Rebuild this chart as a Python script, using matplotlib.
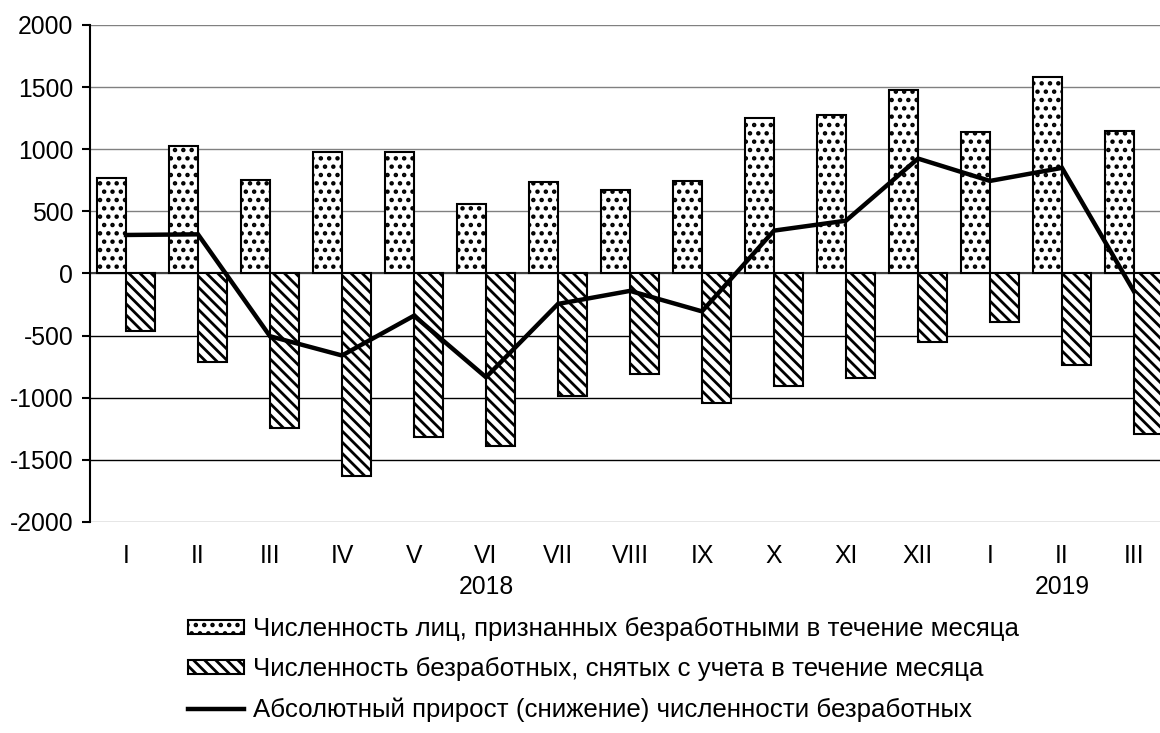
import numpy as np
import matplotlib
matplotlib.use("Agg")
import matplotlib.pyplot as plt
from matplotlib.lines import Line2D
from matplotlib.patches import Patch

plt.rcParams['font.family'] = ['Liberation Sans', 'DejaVu Sans']
plt.rcParams['hatch.linewidth'] = 2.0
plt.rcParams['hatch.color'] = 'black'

months = ['I', 'II', 'III', 'IV', 'V', 'VI', 'VII', 'VIII', 'IX', 'X', 'XI', 'XII',
          'I', 'II', 'III']
years = {5: '2018', 13: '2019'}

# признаны безработными за месяц
recognized = [770, 1030, 750, 980, 980, 560, 740, 670, 745, 1250, 1275, 1475, 1140, 1585, 1150]
removed = [-460, -715, -1240, -1630, -1320, -1385, -985, -810, -1045, -905, -845, -550,
           -390, -735, -1295]
# абсолютный прирост (снижение)
abs_change = [310, 315, -505, -660, -340, -835, -245, -140, -305, 345, 425, 925, 745, 850, -145]

lbl_rec = 'Численность лиц, признанных безработными в течение месяца'
lbl_rem = 'Численность безработных, снятых с учета в течение месяца'
lbl_abs = 'Абсолютный прирост (снижение) численности безработных'

fs = 17.8
fs_leg = 18.6
x = np.arange(len(months))
bw = 0.4
dots = '..'
stripes = '\\\\\\'

fig = plt.figure(figsize=(11.6, 7.33), dpi=100)
ax = fig.add_axes([90 / 1160, 0.2879, 1080 / 1160, 0.678])

yticks = np.arange(-2000, 2001, 500)
for v in yticks:
    col = 'black' if -2000 < v < 0 else '#808080'
    ax.axhline(v, color=col, lw=1.0, zorder=0)
ax.axhline(0, color='#404040', lw=1.5, zorder=1)

ax.bar(x - bw / 2, recognized, bw, facecolor='white', edgecolor='black',
       linewidth=1.5, hatch=dots, zorder=2)
ax.bar(x + bw / 2, removed, bw, facecolor='white', edgecolor='black',
       linewidth=1.5, hatch=stripes, zorder=2)
ax.plot(x, abs_change, color='black', lw=3.2, zorder=3, solid_joinstyle='miter')

ax.set_xlim(-0.5, len(months) - 0.5)
ax.set_ylim(-2000, 2000)
ax.set_yticks(yticks)
ax.set_yticklabels([str(v) for v in yticks], fontsize=fs)
ax.set_xticks(x)
ax.set_xticklabels(months, fontsize=fs)
ax.tick_params(axis='x', length=0, pad=16)
ax.tick_params(axis='y', length=6, width=1.5, direction='out', pad=6)

for s in ['top', 'right', 'bottom']:
    ax.spines[s].set_visible(False)
ax.spines['left'].set_linewidth(1.5)

# годы под вторым рядом подписей
for k, yr in years.items():
    ax.text(k, -0.13, yr, transform=ax.get_xaxis_transform(), ha='center',
            va='center', fontsize=fs)

handles = [
    Patch(facecolor='white', edgecolor='black', hatch=dots, linewidth=1.5),
    Patch(facecolor='white', edgecolor='black', hatch=stripes, linewidth=1.5),
    Line2D([0], [0], color='black', lw=3.2),
]
fig.legend(handles, [lbl_rec, lbl_rem, lbl_abs], loc='upper left',
           bbox_to_anchor=(188 / 1160, 1 - 617 / 733), frameon=False,
           fontsize=fs_leg, handlelength=2.15, handleheight=0.42, handletextpad=0.38,
           labelspacing=0.62, borderpad=0, borderaxespad=0)

fig.savefig('out.png', dpi=100)
